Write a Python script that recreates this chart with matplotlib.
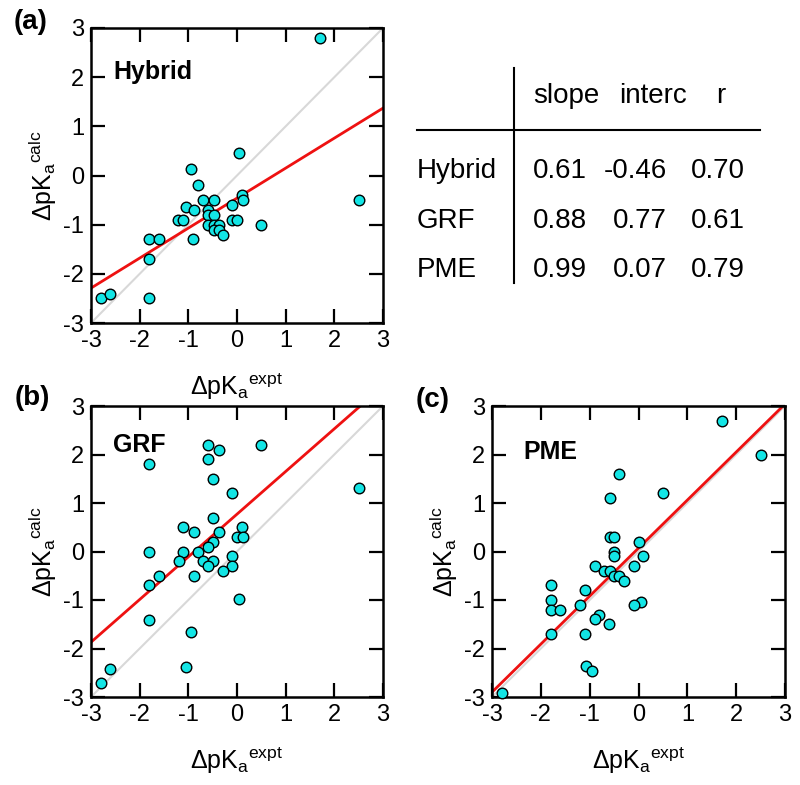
import numpy as np
import matplotlib
matplotlib.use("Agg")
import matplotlib.pyplot as plt

plt.rcParams['font.family'] = ['Liberation Sans', 'DejaVu Sans']
plt.rcParams['axes.unicode_minus'] = False

hybrid_x = [1.7, 0.05, -0.95, -0.8, -0.7, -0.48, -1.05, -0.89, -0.59, -1.22, -1.1,
            -0.59, -0.48, -0.6, -0.48, -0.37, -0.48, -0.38, -0.29, -0.1, 0.1, 0.12,
            -0.1, 0.0, 0.5, 2.5, -1.8, -1.6, -0.9, -1.8, -1.8, -2.8, -2.6]
hybrid_y = [2.8, 0.45, 0.14, -0.2, -0.5, -0.5, -0.65, -0.7, -0.7, -0.9, -0.9,
            -0.8, -0.8, -1.0, -1.0, -1.0, -1.1, -1.1, -1.2, -0.6, -0.4, -0.5,
            -0.9, -0.9, -1.0, -0.5, -1.3, -1.3, -1.3, -1.7, -2.5, -2.5, -2.4]

grf_x = [-0.59, -0.38, -0.6, 0.5, -1.8, -0.49, -0.1, 2.5, -0.49, -1.1, -0.89, -0.38,
         0.1, 0.0, 0.12, -0.49, -0.59, -1.8, -1.1, -0.8, -1.2, -0.7, -0.49, -0.59,
         -0.1, -0.1, -0.29, -1.6, -0.89, 0.05, -1.8, -1.8, -0.95, -1.04, -2.6, -2.8]
grf_y = [2.2, 2.1, 1.9, 2.2, 1.8, 1.5, 1.2, 1.3, 0.7, 0.5, 0.4, 0.4,
         0.5, 0.3, 0.3, 0.2, 0.1, 0.0, 0.0, 0.0, -0.2, -0.2, -0.2, -0.3,
         -0.1, -0.3, -0.4, -0.5, -0.5, -0.97, -0.7, -1.42, -1.66, -2.38, -2.42, -2.72]

pme_x = [1.7, 2.5, -0.39, 0.5, -0.59, -0.59, -0.5, -0.5, -0.5, 0.0, 0.1, -0.1,
         -0.9, -0.7, -0.59, -0.5, -0.39, -0.29, -1.8, -1.1, -1.8, -1.8, -1.6, -1.2,
         0.05, -0.1, -0.8, -0.9, -0.6, -1.8, -1.1, -1.07, -0.95, -2.8]
pme_y = [2.7, 2.0, 1.6, 1.2, 1.1, 0.3, 0.3, 0.0, -0.1, 0.2, -0.1, -0.3,
         -0.3, -0.4, -0.4, -0.5, -0.5, -0.6, -0.7, -0.8, -1.0, -1.2, -1.2, -1.1,
         -1.05, -1.1, -1.3, -1.4, -1.5, -1.7, -1.7, -2.37, -2.47, -2.92]

# fit statistics shown in the table
methods = ['Hybrid', 'GRF', 'PME']
slopes = [0.61, 0.88, 0.99]
intercepts = [-0.46, 0.77, 0.07]
r_values = [0.70, 0.61, 0.79]
table_cols = ['slope', 'interc', 'r']

ticks = [-3, -2, -1, 0, 1, 2, 3]
W, H = 800, 785


def axes_rect(x0, y0, x1, y1):
    """Convert pixel box (top-left origin) to figure fractions."""
    return [x0 / W, 1 - y1 / H, (x1 - x0) / W, (y1 - y0) / H]


def draw_panel(ax, x, y, slope, interc, name, name_pos):
    ax.plot([-3, 3], [-3, 3], color='#d8d8d8', lw=1.5, zorder=1)
    xl = np.array([-3.0, 3.0])
    ax.plot(xl, slope * xl + interc, color='#ee1111', lw=2, zorder=2)
    ax.scatter(x, y, s=58, facecolor='#13e5e5', edgecolor='black',
               linewidths=1.0, zorder=3, clip_on=False)
    ax.set_xlim(-3, 3)
    ax.set_ylim(-3, 3)
    ax.set_xticks(ticks)
    ax.set_yticks(ticks)
    ax.tick_params(direction='in', length=10, width=1.6, labelsize=17,
                   top=True, right=True, pad=5)
    for sp in ax.spines.values():
        sp.set_linewidth(1.8)
    ax.set_xlabel(r'ΔpK$_{\mathregular{a}}$$^{\mathregular{expt}}$', fontsize=18, labelpad=14)
    ax.set_ylabel(r'ΔpK$_{\mathregular{a}}$$^{\mathregular{calc}}$', fontsize=18, labelpad=3)
    ax.text(name_pos[0], name_pos[1], name, fontsize=18, fontweight='bold',
            ha='left', va='center')


fig = plt.figure(figsize=(8, 7.85), dpi=100)

ax_a = fig.add_axes(axes_rect(91, 28, 383, 323))
ax_b = fig.add_axes(axes_rect(91, 406, 383, 697))
ax_c = fig.add_axes(axes_rect(492, 406, 785, 697))

draw_panel(ax_a, hybrid_x, hybrid_y, slopes[0], intercepts[0], 'Hybrid', (-2.55, 2.1))
draw_panel(ax_b, grf_x, grf_y, slopes[1], intercepts[1], 'GRF', (-2.55, 2.2))
draw_panel(ax_c, pme_x, pme_y, slopes[2], intercepts[2], 'PME', (-2.35, 2.05))

# panel tags
for tag, (px, py) in zip(['(a)', '(b)', '(c)'], [(14, 22), (15, 398), (416, 400)]):
    fig.text(px / W, 1 - py / H, tag, fontsize=20, fontweight='bold',
             ha='left', va='center')

# table of fit parameters
tfs = 20
header_y = 96
row_y = [171, 221, 270]
for name, cx in zip(table_cols, [533, 619, 716]):
    fig.text(cx / W, 1 - header_y / H, name, fontsize=tfs, ha='left', va='center')
for i, m in enumerate(methods):
    yy = 1 - row_y[i] / H
    fig.text(417 / W, yy, m, fontsize=tfs, ha='left', va='center')
    vals = [slopes[i], intercepts[i], r_values[i]]
    for v, rx in zip(vals, [587, 667, 745]):
        fig.text(rx / W, yy, f'{v:.2f}', fontsize=tfs, ha='right', va='center')

fig.add_artist(plt.Line2D([514 / W, 514 / W], [1 - 68 / H, 1 - 283 / H],
                          color='black', lw=1.5))
fig.add_artist(plt.Line2D([417 / W, 760 / W], [1 - 130 / H, 1 - 130 / H],
                          color='black', lw=1.5))

fig.savefig('out.png', dpi=100)
